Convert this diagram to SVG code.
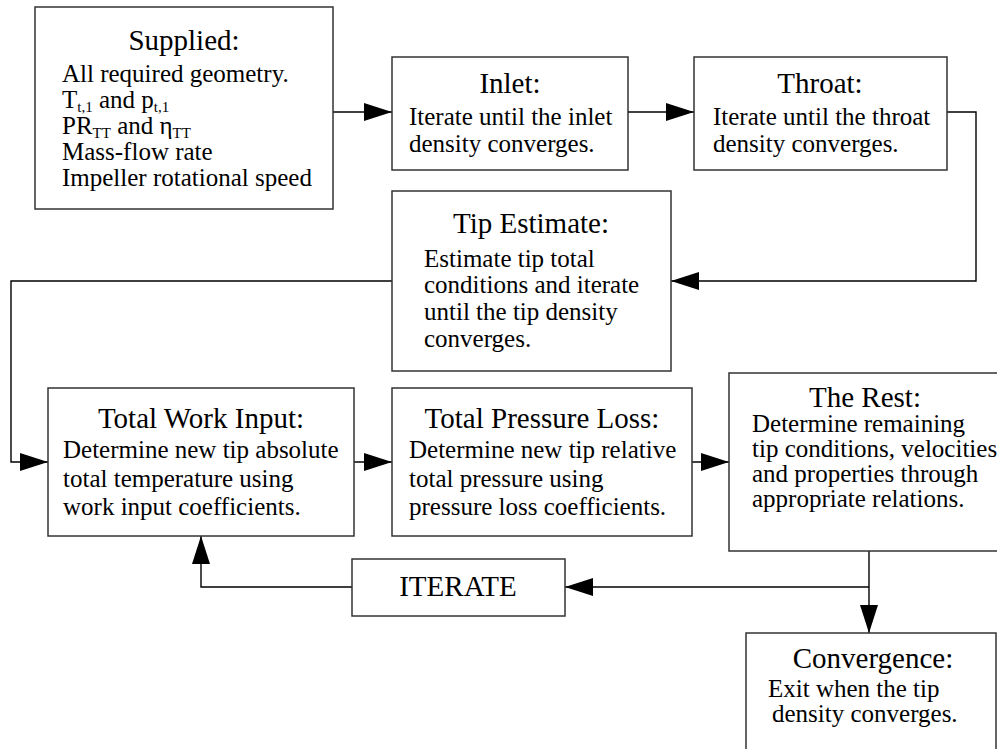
<svg xmlns="http://www.w3.org/2000/svg" width="997" height="749" viewBox="0 0 997 749" font-family="'Liberation Serif', 'DejaVu Serif', serif">
<defs>
<marker id="ah" markerUnits="userSpaceOnUse" markerWidth="28" markerHeight="18" refX="28" refY="9" orient="auto">
<path d="M0,0 L28,9 L0,18 z" fill="#000"/>
</marker>
<style>
.box{fill:#fff;stroke:#333;stroke-width:1.5}
text{font-family:'Liberation Serif', 'DejaVu Serif', serif}
.t{font-size:29px;fill:#000;text-anchor:middle}
.b{font-size:25px;fill:#000}
.s{font-size:15px}
.c{fill:none;stroke:#000;stroke-width:1.4;marker-end:url(#ah)}
</style>
</defs>
<rect width="997" height="749" fill="#fff"/>
<g id="connectors">
<path class="c" d="M333,112 H392"/>
<path class="c" d="M628,112 H694"/>
<path class="c" d="M947,112 H976 V281 H671"/>
<path class="c" d="M392,281 H11 V462 H48"/>
<path class="c" d="M354,462 H392"/>
<path class="c" d="M692,462 H729"/>
<path class="c" d="M869,551 V633"/>
<path class="c" d="M869,587 H565"/>
<path class="c" d="M352,587 H201 V536"/>
</g>
<g id="supplied">
<rect class="box" x="35" y="7" width="298" height="202"/>
<text class="t" x="184" y="50">Supplied:</text>
<text class="b" x="62" y="82">All required geometry.</text>
<text class="b" x="62" y="108">T<tspan class="s" dy="4">t,1</tspan><tspan dy="-4"> and p</tspan><tspan class="s" dy="4">t,1</tspan></text>
<text class="b" x="62" y="134">PR<tspan class="s" dy="4">TT</tspan><tspan dy="-4"> and η</tspan><tspan class="s" dy="4">TT</tspan></text>
<text class="b" x="62" y="160">Mass-flow rate</text>
<text class="b" x="62" y="186">Impeller rotational speed</text>
</g>
<g id="inlet">
<rect class="box" x="392" y="57" width="236" height="113"/>
<text class="t" x="510" y="93">Inlet:</text>
<text class="b" x="409" y="125">Iterate until the inlet</text>
<text class="b" x="409" y="152">density converges.</text>
</g>
<g id="throat">
<rect class="box" x="694" y="57" width="253" height="113"/>
<text class="t" x="820" y="93">Throat:</text>
<text class="b" x="713" y="125">Iterate until the throat</text>
<text class="b" x="713" y="152">density converges.</text>
</g>
<g id="tip-estimate">
<rect class="box" x="392" y="191" width="279" height="180"/>
<text class="t" x="531" y="233">Tip Estimate:</text>
<text class="b" x="424" y="267">Estimate tip total</text>
<text class="b" x="424" y="293">conditions and iterate</text>
<text class="b" x="424" y="320">until the tip density</text>
<text class="b" x="424" y="347">converges.</text>
</g>
<g id="total-work-input">
<rect class="box" x="48" y="388" width="306" height="148"/>
<text class="t" x="201" y="428">Total Work Input:</text>
<text class="b" x="63" y="458">Determine new tip absolute</text>
<text class="b" x="63" y="487">total temperature using</text>
<text class="b" x="63" y="515">work input coefficients.</text>
</g>
<g id="total-pressure-loss">
<rect class="box" x="392" y="388" width="300" height="148"/>
<text class="t" x="542" y="428">Total Pressure Loss:</text>
<text class="b" x="409" y="458">Determine new tip relative</text>
<text class="b" x="409" y="487">total pressure using</text>
<text class="b" x="409" y="515">pressure loss coefficients.</text>
</g>
<g id="the-rest">
<rect class="box" x="729" y="373" width="272" height="178"/>
<text class="t" x="865" y="407">The Rest:</text>
<text class="b" x="752" y="432">Determine remaining</text>
<text class="b" x="752" y="457">tip conditions, velocities</text>
<text class="b" x="752" y="482">and properties through</text>
<text class="b" x="752" y="507">appropriate relations.</text>
</g>
<g id="iterate">
<rect class="box" x="352" y="559" width="213" height="57"/>
<text class="t" x="458" y="596">ITERATE</text>
</g>
<g id="convergence">
<rect class="box" x="746" y="633" width="250" height="130"/>
<text class="t" x="873" y="668">Convergence:</text>
<text class="b" x="768" y="697">Exit when the tip</text>
<text class="b" x="772" y="722">density converges.</text>
</g>
</svg>
